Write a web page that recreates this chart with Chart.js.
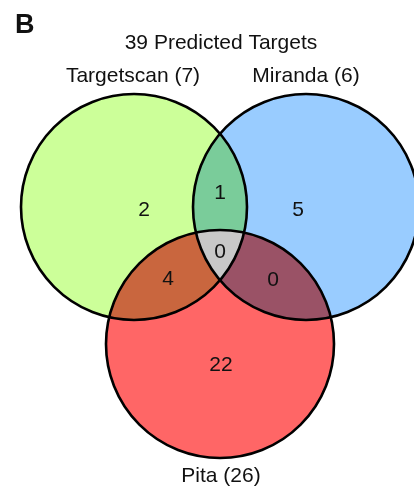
<!DOCTYPE html>
<html><head><meta charset="utf-8">
<script src="https://cdn.jsdelivr.net/npm/chart.js@4/dist/chart.umd.min.js"></script>
<style>html,body{margin:0;padding:0;background:#fff}canvas{display:block}</style>
</head><body>
<canvas id="c" width="414" height="491"></canvas>
<script>
// Data
const panelLetter = 'B';
const totalTargets = [39];
const setNames = ['Targetscan', 'Miranda', 'Pita'];
const setTotals = [7, 6, 26];
// which sets each region belongs to (indices into setNames)
const regionSets = [[0], [0, 1], [1], [0, 1, 2], [0, 2], [1, 2], [2]];
const regionCounts = [2, 1, 5, 0, 4, 0, 22];

// Layout (chart units, x to the right, y downward)
const circles = [
  { x: 134, y: 207, r: 113 },
  { x: 306, y: 207, r: 113 },
  { x: 220, y: 344, r: 114 }
];
const regionAnchors = [[144, 208], [220, 191.5], [298, 208.5], [220, 250], [168, 277.5], [273, 278], [221, 363]];
const setLabelAnchors = [[133, 82], [306, 82], [221, 482]];
const titleAnchor = [221, 49];
const letterAnchor = [15, 33];

// Styles
const setColors = ['#ccff99', '#99ccff', '#ff6666'];
const pairColors = { '0,1': '#7acc9a', '0,2': '#c9663e', '1,2': '#9a5266' };
const tripleColor = '#c8c8c8';
const FONT = '"Liberation Sans", Arial, Helvetica, sans-serif';
const TEXT_SIZE = 21;

const vennPlugin = {
  id: 'venn',
  beforeDatasetsDraw(chart) {
    const ctx = chart.ctx;
    const xs = chart.scales.x, ys = chart.scales.y;
    const px = c => ({
      x: xs.getPixelForValue(c.x),
      y: ys.getPixelForValue(c.y),
      r: Math.abs(xs.getPixelForValue(c.r) - xs.getPixelForValue(0))
    });
    const pc = circles.map(px);
    const path = c => { ctx.beginPath(); ctx.arc(c.x, c.y, c.r, 0, Math.PI * 2); };

    ctx.save();
    // single sets
    pc.forEach((c, i) => { path(c); ctx.fillStyle = setColors[i]; ctx.fill(); });
    // pairwise overlaps
    Object.keys(pairColors).forEach(k => {
      const [a, b] = k.split(',').map(Number);
      ctx.save();
      path(pc[a]); ctx.clip();
      path(pc[b]); ctx.fillStyle = pairColors[k]; ctx.fill();
      ctx.restore();
    });
    // triple overlap
    ctx.save();
    path(pc[0]); ctx.clip();
    path(pc[1]); ctx.clip();
    path(pc[2]); ctx.fillStyle = tripleColor; ctx.fill();
    ctx.restore();
    // outlines
    ctx.lineWidth = 2.6;
    ctx.strokeStyle = '#000';
    pc.forEach(c => { path(c); ctx.stroke(); });
    ctx.restore();
  },
  afterDatasetsDraw(chart) {
    const ctx = chart.ctx;
    const xs = chart.scales.x, ys = chart.scales.y;
    const capHalf = TEXT_SIZE * 0.716 / 2;
    ctx.save();
    ctx.fillStyle = '#111';
    ctx.textAlign = 'center';
    ctx.textBaseline = 'alphabetic';
    ctx.font = TEXT_SIZE + 'px ' + FONT;
    // region counts, placed at the dataset points
    const meta = chart.getDatasetMeta(0);
    meta.data.forEach((pt, i) => {
      ctx.fillText(String(regionCounts[i]), pt.x, pt.y + capHalf);
    });
    // set labels
    setNames.forEach((n, i) => {
      const a = setLabelAnchors[i];
      ctx.fillText(n + ' (' + setTotals[i] + ')', xs.getPixelForValue(a[0]), ys.getPixelForValue(a[1]));
    });
    // title
    ctx.fillText(totalTargets[0] + ' Predicted Targets', xs.getPixelForValue(titleAnchor[0]), ys.getPixelForValue(titleAnchor[1]));
    // panel letter
    ctx.textAlign = 'left';
    ctx.font = 'bold 27px ' + FONT;
    ctx.fillText(panelLetter, xs.getPixelForValue(letterAnchor[0]), ys.getPixelForValue(letterAnchor[1]));
    ctx.restore();
  }
};

new Chart(document.getElementById('c'), {
  type: 'scatter',
  data: {
    datasets: [{
      label: 'regions',
      data: regionAnchors.map((a, i) => ({ x: a[0], y: a[1], n: regionCounts[i], sets: regionSets[i] })),
      pointRadius: 0,
      pointHoverRadius: 0
    }]
  },
  options: {
    responsive: false,
    devicePixelRatio: 1,
    animation: false,
    events: [],
    layout: { padding: 0 },
    plugins: { legend: { display: false }, title: { display: false }, tooltip: { enabled: false } },
    scales: {
      x: { type: 'linear', min: 0, max: 414, display: false },
      y: { type: 'linear', min: 0, max: 491, reverse: true, display: false }
    }
  },
  plugins: [vennPlugin]
});
</script>
</body></html>
